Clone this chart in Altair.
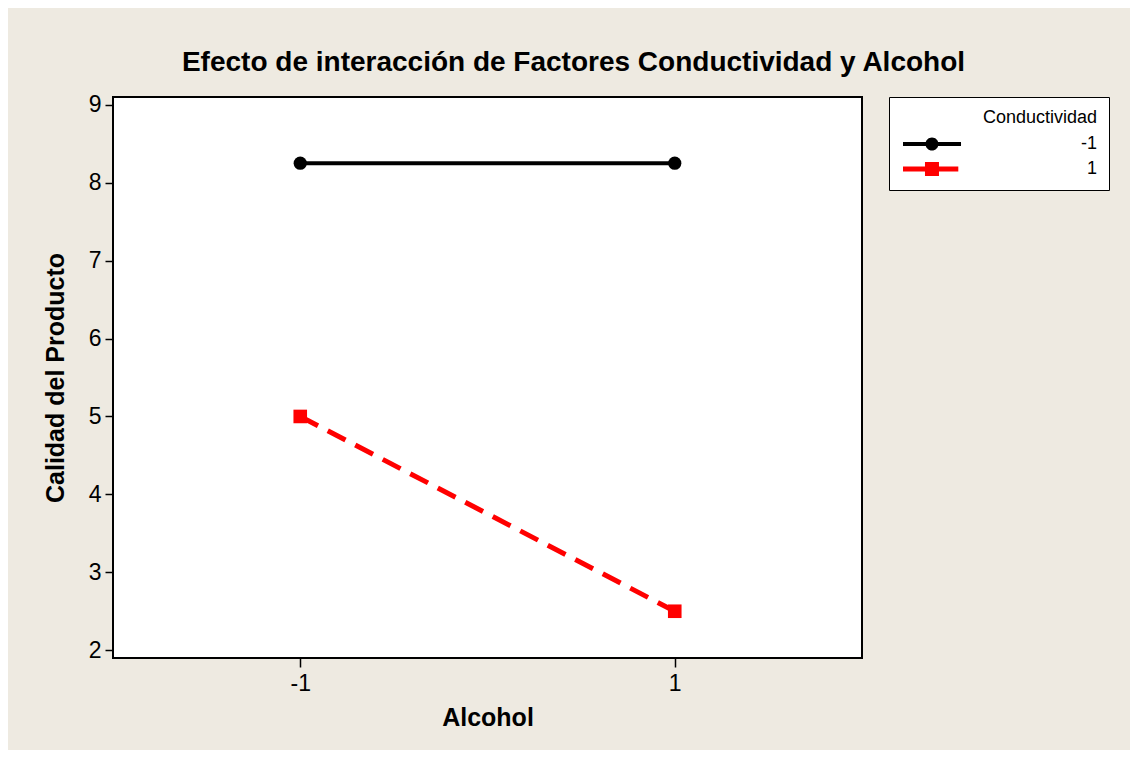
import altair as alt
import pandas as pd

# ---- data ----
alcohol = [-1, 1, -1, 1]
conductividad = ["-1", "-1", "1", "1"]
calidad = [8.25, 8.25, 5.0, 2.5]

levels = ["-1", "1"]
colors = ["#000000", "#FF0000"]
x_ticks = [-1, 1]
y_ticks = [2, 3, 4, 5, 6, 7, 8, 9]

df = pd.DataFrame({"Alcohol": alcohol, "Conductividad": conductividad, "Calidad": calidad})

FONT = "Liberation Sans"
BG = "#EEEAE1"

# legend glyphs: line + marker; unit = 7px (symbol size 196)
circle_leg = ("M-1,-0.29 L2.4,-0.29 L2.4,0.29 L-1,0.29 Z "
              "M3.9,-0.29 L7.29,-0.29 L7.29,0.29 L3.9,0.29 Z "
              "M2.21,0 A0.93,0.93 0 1,1 4.07,0 A0.93,0.93 0 1,1 2.21,0 Z")
square_leg = ("M-1,-0.36 L2.4,-0.36 L2.4,0.36 L-1,0.36 Z "
              "M3.9,-0.36 L6.9,-0.36 L6.9,0.36 L3.9,0.36 Z "
              "M2.14,-1 L4.14,-1 L4.14,1 L2.14,1 Z")

x_enc = alt.X("Alcohol:Q",
              scale=alt.Scale(domain=[-2, 2], nice=False, zero=False),
              axis=alt.Axis(values=x_ticks, title="Alcohol", labelExpr="'' + datum.value",
                            tickSize=9, labelPadding=5, titlePadding=10))
y_enc = alt.Y("Calidad:Q",
              scale=alt.Scale(domain=[1.9, 9.1], nice=False, zero=False),
              axis=alt.Axis(values=y_ticks, title="Calidad del Producto",
                            tickSize=8, labelPadding=4, titlePadding=20))

base = alt.Chart(df)
grp1 = base.transform_filter(alt.datum.Conductividad == levels[0])
grp2 = base.transform_filter(alt.datum.Conductividad == levels[1])

line1 = grp1.mark_line(color=colors[0], strokeWidth=4).encode(x=x_enc, y=y_enc)
line2 = grp2.mark_line(color=colors[1], strokeWidth=5, strokeDash=[20, 11]).encode(x=x_enc, y=y_enc)
circles = grp1.mark_point(shape="circle", filled=True, size=175, opacity=1,
                          color=colors[0]).encode(x=x_enc, y=y_enc)
squares = grp2.mark_point(shape="square", filled=True, size=185, opacity=1,
                          color=colors[1]).encode(x=x_enc, y=y_enc)

leg = dict(
    title="Conductividad", orient="none", legendX=776, legendY=0,
    padding=12, strokeColor="black", fillColor="white",
    symbolSize=196, symbolOpacity=1, symbolStrokeWidth=0,
    labelAlign="right", labelOffset=178, labelFont=FONT, labelFontSize=18,
    labelColor="black", titleFont=FONT, titleFontSize=18, titleFontWeight="normal",
    titleColor="black", titleAnchor="end", titlePadding=8, rowPadding=7,
)

legend_layer = base.mark_point(filled=True, opacity=0).encode(
    x=x_enc, y=y_enc,
    color=alt.Color("Conductividad:N", scale=alt.Scale(domain=levels, range=colors),
                    legend=alt.Legend(**leg)),
    shape=alt.Shape("Conductividad:N", scale=alt.Scale(domain=levels, range=[circle_leg, square_leg]),
                    legend=alt.Legend(**leg)),
)

chart = alt.layer(line1, line2, circles, squares, legend_layer).properties(
    width=749, height=561,
    padding={"left": 105, "top": 89, "right": 268, "bottom": 92},
    autosize=alt.AutoSizeParams(type="none"),
    background=BG,
    title=alt.TitleParams(
        text="Efecto de interacción de Factores Conductividad y Alcohol",
        font=FONT, fontSize=28, fontWeight="bold", color="black",
        anchor="middle", dx=86, offset=17,
    ),
).configure_view(
    stroke="black", strokeWidth=2, fill="white"
).configure_axis(
    domain=False, grid=False, tickColor="black", tickWidth=1.5,
    labelFont=FONT, labelFontSize=23, labelColor="black",
    titleFont=FONT, titleFontSize=25, titleFontWeight="bold", titleColor="black",
)

chart.save("out.html", embed_options={"renderer": "svg", "actions": False})
